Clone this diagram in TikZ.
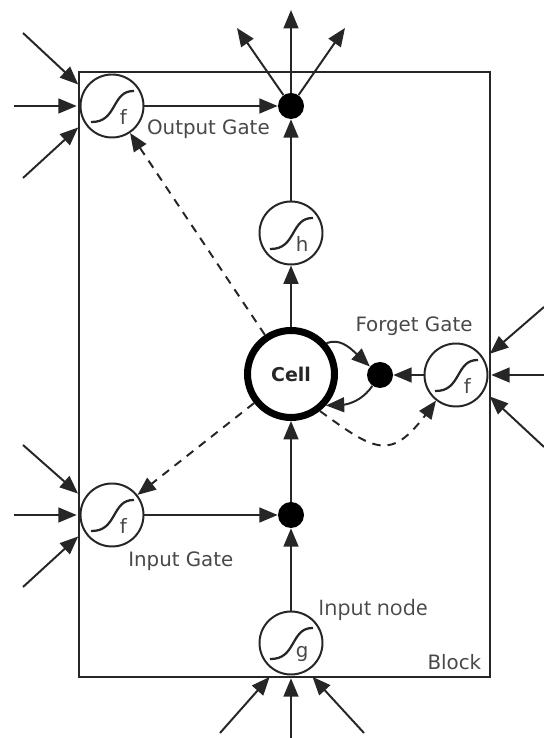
\documentclass[tikz,border=0pt]{standalone}
\usepackage{fontspec}
\setmainfont{DejaVu Sans}
\newfontfamily\inputfont{Open Sans}
\usetikzlibrary{arrows.meta,bending,calc}
\definecolor{linegray}{HTML}{262626}
\definecolor{textgray}{HTML}{484848}
\newcommand{\labelsize}{\fontsize{14.1}{17}\selectfont}
\tikzset{
  flow/.style={-{Triangle[length=13pt,width=10.5pt]},line width=1.4pt,draw=linegray},
  peephole/.style={flow,dashed,dash pattern=on 6pt off 5pt},
  curvedpeephole/.style={peephole,-{Triangle[length=13pt,width=10.5pt,flex=0.9]}},
  inflow/.style={flow,shorten >=5.5pt},
  midflow/.style={flow,shorten >=2pt},
  gateletter/.style={text=textgray,font=\labelsize,xshift=8pt,yshift=-7.5pt},
  gatenode/.style={circle,draw=linegray,line width=1.4pt,fill=white,inner sep=0pt,minimum size=1.575cm,
    label={[gateletter]center:#1},
    path picture={\draw[line width=1.6pt,linegray,shift={(path picture bounding box.center)}]
      (-0.525,-0.4) .. controls (0.14,-0.42) and (-0.02,0.39) .. (0.55,0.375);}},
  cellnode/.style={circle,draw=black,line width=5pt,fill=white,inner sep=0pt,minimum size=2.175cm,
    font=\bfseries\fontsize{13.5}{16}\selectfont,text=black!85},
  dotnode/.style={circle,fill=black,inner sep=0pt,minimum size=0.65cm},
  caption/.style={text=textgray,font=\labelsize}
}
\begin{document}
\begin{tikzpicture}
\useasboundingbox (0,0) rectangle (13.6,18.45);

% Block
\draw[line width=1.5pt,linegray] (1.975,1.525) rectangle (12.25,16.65);

% Units
\node[gatenode=f] (foutput) at (2.8,15.8) {};
\node[gatenode=f] (fforget) at (11.4,9.075) {};
\node[gatenode=f] (finput) at (2.8,5.575) {};
\node[gatenode=h] (hnode) at (7.275,12.625) {};
\node[gatenode=g] (gnode) at (7.275,2.375) {};
\node[cellnode] (cell) at (7.275,9.1) {Cell};
\node[dotnode] (doutput) at (7.275,15.8) {};
\node[dotnode] (dforget) at (9.5,9.075) {};
\node[dotnode] (dinput) at (7.275,5.575) {};

% Labels
\node[caption] (outputlabel) at (5.21,15.22) {Output Gate};
\node[caption] (forgetlabel) at (10.35,10.3) {Forget Gate};
\node[caption] (inputlabel) at (4.52,4.42) {Input Gate};
\node[caption,font=\inputfont\fontsize{15.2}{17}\selectfont] (nodelabel) at (9.33,3.2) {Input node};
\node[caption] (blocklabel) at (11.36,1.9) {Block};

% Free ends
\coordinate (up) at (7.275,18.2);
\coordinate (upleft) at (5.925,17.75);
\coordinate (upright) at (8.625,17.75);
\coordinate (oa) at (0.575,17.625);
\coordinate (ob) at (0.35,15.8);
\coordinate (oc) at (0.575,14);
\coordinate (ia) at (0.575,7.325);
\coordinate (ib) at (0.35,5.575);
\coordinate (ic) at (0.575,3.775);
\coordinate (fa) at (13.6,10.775);
\coordinate (fb) at (13.6,9.075);
\coordinate (fc) at (13.6,7.275);
\coordinate (ga) at (5.5,0.125);
\coordinate (gb) at (7.275,0);
\coordinate (gc) at (9.1,0.125);

% Incoming arrows
\draw[inflow] (oa) -- (foutput.150);
\draw[midflow] (ob) -- (foutput);
\draw[inflow] (oc) -- (foutput.210);
\draw[inflow] (ia) -- (finput.150);
\draw[midflow] (ib) -- (finput);
\draw[inflow] (ic) -- (finput.210);
\draw[inflow] (fa) -- (fforget.30);
\draw[midflow] (fb) -- (fforget);
\draw[inflow] (fc) -- (fforget.330);
\draw[inflow] (ga) -- (gnode.240);
\draw[midflow] (gb) -- (gnode);
\draw[inflow] (gc) -- (gnode.300);

% Main flow
\draw[flow] (gnode) -- (dinput);
\draw[flow] (dinput) -- (cell);
\draw[flow] (cell) -- (hnode);
\draw[flow] (hnode) -- (doutput);
\draw[flow] (finput) -- (dinput);
\draw[flow] (foutput) -- (doutput);
\draw[flow] (fforget) -- (dforget);
\draw[flow] (doutput) -- (up);
\draw[flow] (doutput) -- (upleft);
\draw[flow] (doutput) -- (upright);

% Self loop through the forget gate
\draw[flow] (cell.41) to[out=20,in=140] (dforget);
\draw[flow] (dforget) to[out=235,in=-5] (cell.-42);

% Peepholes
\draw[peephole] (cell) -- (foutput);
\draw[peephole] (cell) -- (finput);
\draw[curvedpeephole] (cell.-52) to[out=-36,in=235,looseness=1.65] (fforget.232);
\end{tikzpicture}
\end{document}
